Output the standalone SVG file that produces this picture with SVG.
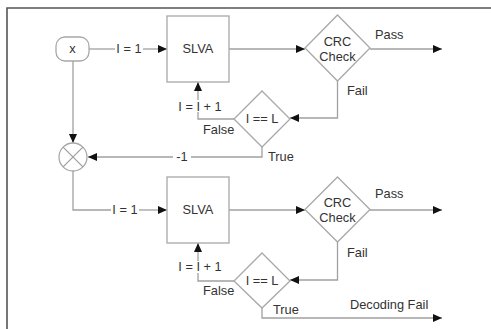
<svg xmlns="http://www.w3.org/2000/svg" width="491" height="329" viewBox="0 0 491 329">
<defs>
<style>
.shape{fill:#fff;stroke:#a8a8a8;stroke-width:1.3}
.ln{fill:none;stroke:#a0a0a0;stroke-width:1.3}
.t{font-family:"Liberation Sans",Arial,sans-serif;font-size:12.8px;fill:#333}
.c{text-anchor:middle}
</style>
<marker id="ah" markerUnits="userSpaceOnUse" markerWidth="10" markerHeight="10" refX="9" refY="4" orient="auto">
<path d="M0,0 L9,4 L0,8 Z" fill="#111"/>
</marker>
</defs>
<rect width="491" height="329" fill="#fff"/>
<path d="M7,329 V8 H491" fill="none" stroke="#555" stroke-width="1.6"/>

<g id="connectors">
<path class="ln" d="M89,49 H115"/>
<path class="ln" d="M143,49 H167" marker-end="url(#ah)"/>
<path class="ln" d="M229,49 H305" marker-end="url(#ah)"/>
<path class="ln" d="M370,49 H442" marker-end="url(#ah)"/>
<path class="ln" d="M337.5,81 V118 H290" marker-end="url(#ah)"/>
<path class="ln" d="M234,119 H198 V112"/>
<path class="ln" d="M198,100 V82" marker-end="url(#ah)"/>
<path class="ln" d="M262,147 V157 H191"/>
<path class="ln" d="M173,157 H88" marker-end="url(#ah)"/>
<path class="ln" d="M73,61 V143" marker-end="url(#ah)"/>
<path class="ln" d="M73,171 V210 H111"/>
<path class="ln" d="M139,210 H167" marker-end="url(#ah)"/>
<path class="ln" d="M229,210 H305" marker-end="url(#ah)"/>
<path class="ln" d="M370,210 H442" marker-end="url(#ah)"/>
<path class="ln" d="M337.5,242 V280 H290" marker-end="url(#ah)"/>
<path class="ln" d="M234,281 H198 V273"/>
<path class="ln" d="M198,261 V243" marker-end="url(#ah)"/>
<path class="ln" d="M262,308 V318 H442" marker-end="url(#ah)"/>
</g>

<g id="x-node">
<rect class="shape" x="56" y="37" width="33" height="24" rx="9"/>
<text class="t c" x="72.5" y="53">x</text>
</g>
<g id="slva1">
<rect class="shape" x="167" y="16" width="62" height="66"/>
<text class="t c" x="198" y="53">SLVA</text>
</g>
<g id="crc1">
<polygon class="shape" points="337.5,15 370,48 337.5,81 305,48"/>
<text class="t c" x="337.5" y="46">CRC</text>
<text class="t c" x="337.5" y="61">Check</text>
</g>
<g id="cmp1">
<polygon class="shape" points="262,91 290,119 262,147 234,119"/>
<text class="t c" x="262" y="123">I == L</text>
</g>
<g id="mult">
<circle class="shape" cx="73" cy="157" r="14"/>
<path class="ln" d="M63.1,147.1 L82.9,166.9 M82.9,147.1 L63.1,166.9"/>
</g>
<g id="slva2">
<rect class="shape" x="167" y="177" width="62" height="66"/>
<text class="t c" x="198" y="214">SLVA</text>
</g>
<g id="crc2">
<polygon class="shape" points="337.5,177 370,209.5 337.5,242 305,209.5"/>
<text class="t c" x="337.5" y="207">CRC</text>
<text class="t c" x="337.5" y="222">Check</text>
</g>
<g id="cmp2">
<polygon class="shape" points="262,253 290,281 262,308 234,281"/>
<text class="t c" x="262" y="285">I == L</text>
</g>

<g id="labels">
<text class="t c" x="129" y="53">I = 1</text>
<text class="t" x="375" y="39">Pass</text>
<text class="t" x="347" y="95">Fail</text>
<text class="t c" x="200" y="111">I = I + 1</text>
<text class="t" x="203" y="134">False</text>
<text class="t" x="268" y="161">True</text>
<text class="t c" x="182" y="161">-1</text>
<text class="t c" x="125" y="214">I = 1</text>
<text class="t" x="375" y="198">Pass</text>
<text class="t" x="347" y="257">Fail</text>
<text class="t c" x="200" y="271">I = I + 1</text>
<text class="t" x="203" y="295">False</text>
<text class="t" x="273" y="314">True</text>
<text class="t" x="350" y="309">Decoding Fail</text>
</g>
</svg>
